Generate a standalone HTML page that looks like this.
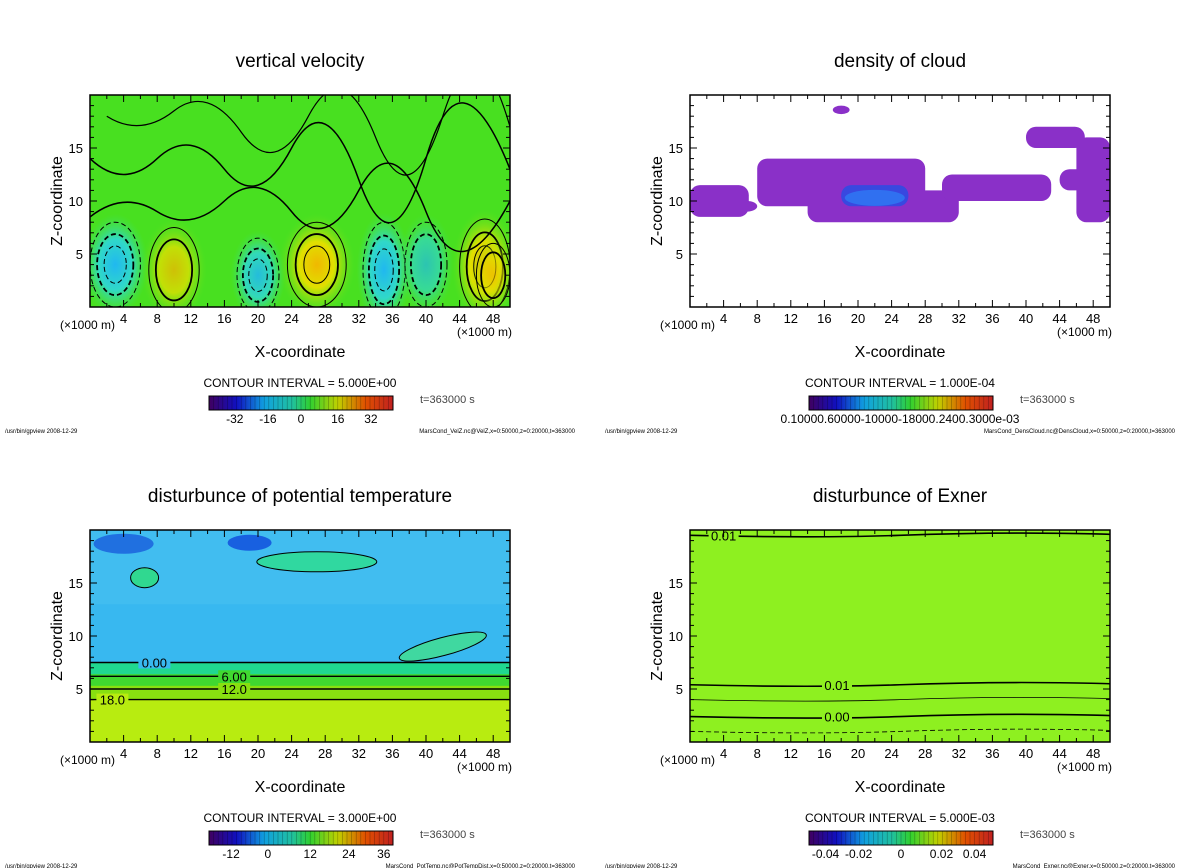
<!DOCTYPE html>
<html><head><meta charset="utf-8">
<style>
body{margin:0;background:#fff;width:1200px;height:868px;overflow:hidden;font-family:"Liberation Sans",sans-serif}
svg{position:absolute;left:0;top:0}
</style></head>
<body>
<svg id="s" width="1200" height="868" xmlns="http://www.w3.org/2000/svg">
<defs>
<radialGradient id="gUp"><stop offset="0" stop-color="#f0b800"/><stop offset="0.45" stop-color="#e0e000"/><stop offset="1" stop-color="#60e020" stop-opacity="0"/></radialGradient>
<radialGradient id="gDn"><stop offset="0" stop-color="#20b8f0"/><stop offset="0.5" stop-color="#30d8c8"/><stop offset="1" stop-color="#40e060" stop-opacity="0"/></radialGradient>
<linearGradient id="cbar" x1="0" x2="1"><stop offset="0" stop-color="#400060"/><stop offset="0.15" stop-color="#1010c0"/><stop offset="0.3" stop-color="#10a0e0"/><stop offset="0.45" stop-color="#20c0a0"/><stop offset="0.55" stop-color="#30d030"/><stop offset="0.7" stop-color="#c0d000"/><stop offset="0.85" stop-color="#e05000"/><stop offset="1" stop-color="#c02020"/></linearGradient>
</defs>
</svg>
<script>
const NS="http://www.w3.org/2000/svg";
const svg=document.getElementById('s');
// ---- data ----
const xTicks=[4,8,12,16,20,24,28,32,36,40,44,48];
const zTicks=[5,10,15];
const vvBlobX=[3,10,20,27,35,40,47,48];
const vvBlobZ=[4,3.5,3,4,3.5,4,3.8,3];
const vvBlobAmp=[-1,0.8,-0.9,1,-1.2,-0.7,1.3,0.6];
const vvBlobRx=[3,3,2.5,3.5,2.5,2.5,3,2];
const vvBlobRz=[4,4,3.5,4,4.5,4,4.5,3];
const cloudX0=[8,14,0,30,40,47,44,17,46,18,3];
const cloudX1=[28,32,7,43,47,50,48,19,50,26,8];
const cloudZ0=[9.5,8,8.5,10,15,9,11,18.2,8,9.5,9];
const cloudZ1=[14,11,11.5,12.5,17,10,13,19,16,11.5,10];
const cloudKind=[0,0,0,0,0,1,0,0,0,1,0];
const ptBandZ=[0,4,5.3,6.4,7.5];
const ptBandColor=["#b8ec10","#88e010","#40d830","#20d890","#38b8f0"];
const ptLineZ=[7.5,6.2,5,4];
const ptLineLab=["0.00","6.00","12.0","18.0"];
const exLineZ=[19.5,5.4,4,2.4,1];
const exLineLab=["0.01","0.01","","0.00",""];
const cbLabels=[["-32","-16","0","16","32"],["0.10000.60000-10000-18000.2400.3000e-03"],["-12","0","12","24","36"],["-0.04","-0.02","0","0.02","0.04"]];

function el(tag,attrs,parent,name,inter){const e=document.createElementNS(NS,tag);for(const k in attrs)e.setAttribute(k,attrs[k]);


(parent||svg).appendChild(e);return e;}
function txt(x,y,s,size,anchor,parent,name,extra){const t=el('text',Object.assign({x:x,y:y,'font-size':size,'text-anchor':anchor||'middle',fill:'#000'},extra||{}),parent,name);t.textContent=s;return t;}

const panels=[
 {x0:90,y0:95,title:"vertical velocity",ci:"5.000E+00",file:"MarsCond_VelZ.nc@VelZ,x=0:50000,z=0:20000,t=363000"},
 {x0:690,y0:95,title:"density of cloud",ci:"1.000E-04",file:"MarsCond_DensCloud.nc@DensCloud,x=0:50000,z=0:20000,t=363000"},
 {x0:90,y0:530,title:"disturbunce of potential temperature",ci:"3.000E+00",file:"MarsCond_PotTemp.nc@PotTempDist,x=0:50000,z=0:20000,t=363000"},
 {x0:690,y0:530,title:"disturbunce of Exner",ci:"5.000E-03",file:"MarsCond_Exner.nc@Exner,x=0:50000,z=0:20000,t=363000"}];
const W=420,H=212;
panels.forEach((p,i)=>{
 const g=el('g',{},svg,'panel-'+(i+1));
 const X=v=>p.x0+v/50*W, Z=v=>p.y0+H-v/20*H;
 const clip=el('clipPath',{id:'c'+i},g,'plot-clip');el('rect',{x:p.x0,y:p.y0,width:W,height:H},clip,'clip-rect');
 const pg=el('g',{'clip-path':'url(#c'+i+')'},g,'plot-area');
 if(i===0){
  el('rect',{x:p.x0,y:p.y0,width:W,height:H,fill:'#48e020'},pg,'field-background');
  vvBlobX.forEach((bx,k)=>{const a=vvBlobAmp[k];
   el('ellipse',{cx:X(bx),cy:Z(vvBlobZ[k]),rx:vvBlobRx[k]/50*W*1.3,ry:vvBlobRz[k]/20*H*1.2,fill:a>0?'url(#gUp)':'url(#gDn)',opacity:Math.min(1,Math.abs(a))},pg,'velocity-cell');
   for(let r=1;r<=3;r++){ if(r>Math.abs(a)*3+0.5)break;
    el('ellipse',{cx:X(bx),cy:Z(vvBlobZ[k]),rx:vvBlobRx[k]/50*W*(1-0.28*(r-1)),ry:vvBlobRz[k]/20*H*(1-0.28*(r-1)),fill:'none',stroke:'#000','stroke-width':r==2?1.8:1,'stroke-dasharray':a<0?'5,3':'none'},pg,'contour-line');}
  });
  el('path',{d:`M${X(0)} ${Z(14)} Q${X(4)} ${Z(11)} ${X(8)} ${Z(14)} T${X(16)} ${Z(13)} T${X(24)} ${Z(15)} T${X(32)} ${Z(12)} T${X(40)} ${Z(14)} T${X(50)} ${Z(13)}`,fill:'none',stroke:'#000','stroke-width':1.5},pg,'contour-line');
  el('path',{d:`M${X(0)} ${Z(8.5)} Q${X(4)} ${Z(11)} ${X(8)} ${Z(9)} T${X(16)} ${Z(10)} T${X(24)} ${Z(9)} T${X(32)} ${Z(11)} T${X(40)} ${Z(9)} T${X(50)} ${Z(10)}`,fill:'none',stroke:'#000','stroke-width':1.5},pg,'contour-line');
  el('path',{d:`M${X(2)} ${Z(18)} Q${X(6)} ${Z(16)} ${X(10)} ${Z(18.5)} T${X(18)} ${Z(16.5)} T${X(26)} ${Z(18)} T${X(34)} ${Z(16)} T${X(42)} ${Z(18)} T${X(50)} ${Z(17)}`,fill:'none',stroke:'#000','stroke-width':1.2},pg,'contour-line');
 } else if(i===1){
  cloudX0.forEach((cx,k)=>{
   el('rect',{x:X(cx),y:Z(cloudZ1[k]),width:X(cloudX1[k])-X(cx),height:Z(cloudZ0[k])-Z(cloudZ1[k]),rx:10,fill:cloudKind[k]?'#3848e0':'#8a30c8'},pg,'cloud-patch');});
  el('ellipse',{cx:X(22),cy:Z(10.3),rx:30,ry:8,fill:'#3070f0'},pg,'cloud-core');
 } else if(i===2){
  for(let k=0;k<ptBandZ.length;k++){
   el('rect',{x:p.x0,y:p.y0,width:W,height:Z(ptBandZ[k])-p.y0,fill:ptBandColor[k]},pg,'temperature-band');}
  el('rect',{x:p.x0,y:p.y0,width:W,height:Z(13)-p.y0,fill:'#48c0f0',opacity:0.6},pg,'upper-band');
  el('ellipse',{cx:X(4),cy:Z(18.7),rx:30,ry:10,fill:'#2070e0'},pg,'cold-region');
  el('ellipse',{cx:X(19),cy:Z(18.8),rx:22,ry:8,fill:'#1860e0'},pg,'cold-region');
  el('ellipse',{cx:X(27),cy:Z(17),rx:60,ry:10,fill:'#30d8a0',stroke:'#000'},pg,'warm-region');
  el('ellipse',{cx:X(6.5),cy:Z(15.5),rx:14,ry:10,fill:'#30d890',stroke:'#000'},pg,'warm-region');
  el('ellipse',{cx:X(42),cy:Z(9),rx:45,ry:9,fill:'#40d8a0',stroke:'#000',transform:`rotate(-15 ${X(42)} ${Z(9)})`},pg,'warm-region');
  const labBg=["#38b8f0","#40d830","#88e010","#b8ec10"];
  ptLineZ.forEach((z,k)=>{el('line',{x1:p.x0,x2:p.x0+W,y1:Z(z),y2:Z(z),stroke:'#000','stroke-width':1.4},pg,'contour-line');
   const lx=[X(6),X(15.5),X(15.5),X(1)][k];el('rect',{x:lx-2,y:Z(z)-6,width:32,height:12,fill:labBg[k]},pg,'label-bg');
   txt(lx+14,Z(z)+5,ptLineLab[k],13,'middle',pg,'contour-label');});
 } else {
  el('rect',{x:p.x0,y:p.y0,width:W,height:H,fill:'#8ef020'},pg,'field-background');
  exLineZ.forEach((z,k)=>{el('path',{d:`M${p.x0} ${Z(z)} Q${X(15)} ${Z(z)+3} ${X(25)} ${Z(z)} T${X(44)} ${Z(z)-2} T${X(50)} ${Z(z)}`,fill:'none',stroke:'#000','stroke-width':k==1||k==3||k==0?1.6:0.8,'stroke-dasharray':k==4?'5,3':'none'},pg,'contour-line');
   if(exLineLab[k]){const lx=k==0?X(4):X(17.5);el('rect',{x:lx-15,y:Z(z)-6,width:30,height:12,fill:'#8ef020'},pg,'label-bg');txt(lx,Z(z)+5,exLineLab[k],13,'middle',pg,'contour-label');}});
 }
 el('rect',{x:p.x0,y:p.y0,width:W,height:H,fill:'none',stroke:'#000','stroke-width':1.5},g,'plot-frame');
 for(let v=2;v<50;v+=2){el('line',{x1:X(v),x2:X(v),y1:p.y0+H,y2:p.y0+H-(v%4?4:7),stroke:'#000'},g,'x-tick');el('line',{x1:X(v),x2:X(v),y1:p.y0,y2:p.y0+(v%4?4:7),stroke:'#000'},g,'x-tick');}
 for(let v=1;v<20;v++){el('line',{x1:p.x0,x2:p.x0+(v%5?4:7),y1:Z(v),y2:Z(v),stroke:'#000'},g,'z-tick');el('line',{x1:p.x0+W,x2:p.x0+W-(v%5?4:7),y1:Z(v),y2:Z(v),stroke:'#000'},g,'z-tick');}
 xTicks.forEach(v=>txt(X(v),p.y0+H+16,String(v),13,'middle',g,'x-tick-label'));
 zTicks.forEach(v=>txt(p.x0-7,Z(v)+5,String(v),13,'end',g,'z-tick-label'));
 txt(p.x0-30,p.y0+H+22,"(×1000 m)",12,'start',g,'x-unit-left');
 txt(p.x0+W+2,p.y0+H+29,"(×1000 m)",12,'end',g,'x-unit-right');
 txt(p.x0+210,p.y0+H+50,"X-coordinate",16,'middle',g,'x-axis-title');
 txt(0,0,"Z-coordinate",16,'middle',g,'z-axis-title',{transform:`translate(${p.x0-28},${p.y0+106}) rotate(-90)`});
 txt(p.x0+210,p.y0-28,p.title,19,'middle',g,'chart-title');
 txt(p.x0+210,p.y0+H+80,"CONTOUR INTERVAL = "+p.ci,12,'middle',g,'contour-interval');
 el('rect',{x:p.x0+119,y:p.y0+H+89,width:184,height:14,fill:'url(#cbar)',stroke:'#000'},g,'colorbar');
 for(let k=0;k<40;k++)el('line',{x1:p.x0+119+k*4.6,x2:p.x0+119+k*4.6,y1:p.y0+H+89,y2:p.y0+H+103,stroke:'#000','stroke-opacity':0.35,'stroke-width':0.6},g,'colorbar-step');
 const labs=cbLabels[i];
 if(labs.length===1) txt(p.x0+210,p.y0+H+116,labs[0],12,'middle',g,'colorbar-label');
 else { const pos=i===3?[0.09,0.27,0.5,0.72,0.9]:(i===2?[0.12,0.32,0.55,0.76,0.95]:[0.14,0.32,0.5,0.7,0.88]);
  labs.forEach((s,k)=>txt(p.x0+119+pos[k]*184,p.y0+H+116,s,12,'middle',g,'colorbar-label'));}
 txt(p.x0+330,p.y0+H+96,"t=363000 s",11,'start',g,'time-label',{fill:'#444'});
 txt(p.x0-85,p.y0+H+126,"/usr/bin/gpview   2008-12-29",6,'start',g,'footer-left');
 txt(p.x0+485,p.y0+H+126,p.file,6,'end',g,'footer-right');
});
</script>
</body></html>
